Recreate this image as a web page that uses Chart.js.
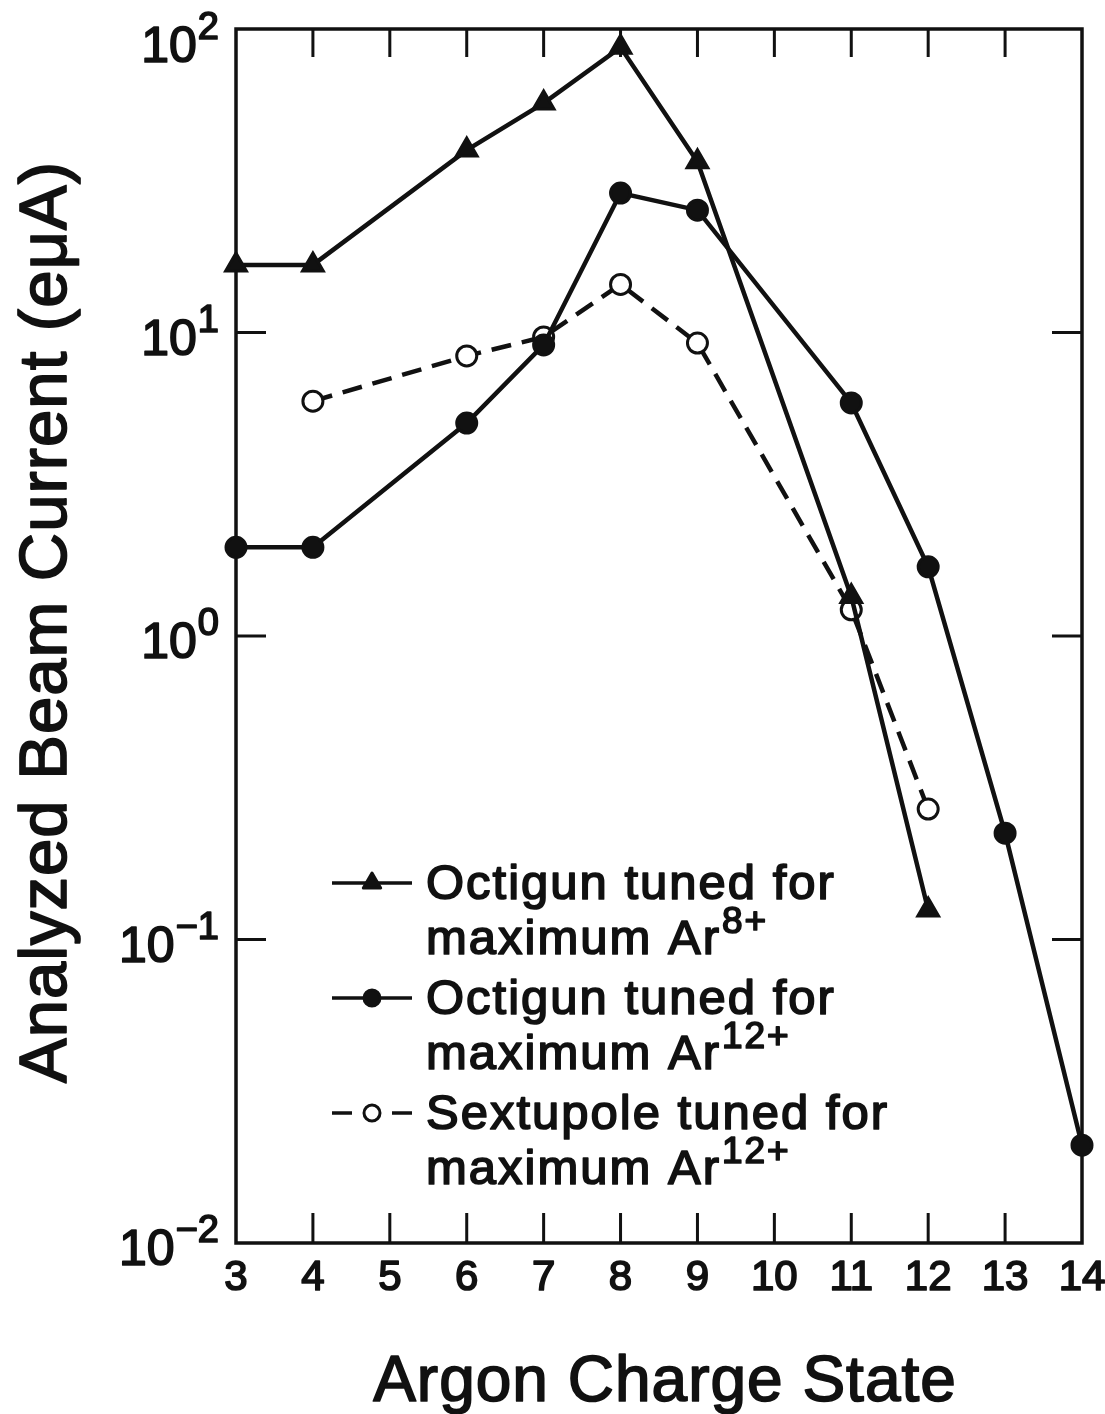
<!DOCTYPE html>
<html>
<head>
<meta charset="utf-8">
<script src="https://cdn.jsdelivr.net/npm/chart.js@4/dist/chart.umd.min.js"></script>
<style>
  html, body { margin: 0; padding: 0; background: #fff; }
  #wrap { width: 1105px; height: 1414px; position: relative; }
</style>
</head>
<body>
<div id="wrap"><canvas id="beamChart"></canvas></div>
<script>
// ---- data ----
const chargeTicks = [3, 4, 5, 6, 7, 8, 9, 10, 11, 12, 13, 14];
const decadeExps = [2, 1, 0, -1, -2];

const ar8States = [3, 4, 6, 7, 8, 9, 11, 12];
const ar8Current = [16.7, 16.7, 39.9, 57, 87, 36.5, 1.35, 0.125];

const ar12States = [3, 4, 6, 7, 8, 9, 11, 12, 13, 14];
const ar12Current = [1.96, 1.96, 5.03, 9.1, 28.8, 25.3, 5.86, 1.69, 0.224, 0.021];

const sextStates = [4, 6, 7, 8, 9, 11, 12];
const sextCurrent = [5.94, 8.37, 9.67, 14.4, 9.23, 1.22, 0.269];

const legendText = [
  ['Octigun tuned for', 'maximum Ar', '8+'],
  ['Octigun tuned for', 'maximum Ar', '12+'],
  ['Sextupole tuned for', 'maximum Ar', '12+']
];
const xTitle = 'Argon Charge State';
const yTitle = 'Analyzed Beam Current (e\u03bcA)';

const FONT = '"Liberation Sans", Arial, Helvetica, sans-serif';
const INK = '#111';

function pairs(xs, ys) {
  return xs.map((x, i) => ({ x: x, y: ys[i] }));
}

// text a bit heavier, like the printed original
function inkText(ctx, txt, x, y) {
  ctx.fillText(txt, x, y);
  ctx.strokeText(txt, x, y);
}

// base text followed by a raised superscript, left aligned at x
function supText(ctx, base, sup, x, y, size, supSize, raise) {
  ctx.textAlign = 'left';
  ctx.font = size + 'px ' + FONT;
  inkText(ctx, base, x, y);
  const w = ctx.measureText(base).width;
  ctx.font = supSize + 'px ' + FONT;
  inkText(ctx, sup, x + w + 1, y - raise);
}

function supWidth(ctx, base, sup, size, supSize) {
  ctx.font = size + 'px ' + FONT;
  const w = ctx.measureText(base).width;
  ctx.font = supSize + 'px ' + FONT;
  return w + 1 + ctx.measureText(sup).width;
}

const framePlugin = {
  id: 'framePlugin',
  beforeDatasetsDraw(chart) {
    const { ctx, chartArea: a, scales } = chart;
    ctx.save();
    ctx.strokeStyle = INK;
    ctx.lineWidth = 3.5;
    ctx.strokeRect(a.left, a.top, a.right - a.left, a.bottom - a.top);

    // inward ticks on all four sides
    ctx.lineWidth = 3;
    ctx.beginPath();
    chargeTicks.slice(1, -1).forEach(v => {
      const x = scales.x.getPixelForValue(v);
      ctx.moveTo(x, a.bottom); ctx.lineTo(x, a.bottom - 30);
      ctx.moveTo(x, a.top); ctx.lineTo(x, a.top + 28);
    });
    decadeExps.slice(1, -1).forEach(e => {
      const y = scales.y.getPixelForValue(Math.pow(10, e));
      ctx.moveTo(a.left, y); ctx.lineTo(a.left + 30, y);
      ctx.moveTo(a.right, y); ctx.lineTo(a.right - 30, y);
    });
    ctx.stroke();
    ctx.restore();
  },
  afterDraw(chart) {
    const { ctx, chartArea: a, scales } = chart;
    ctx.save();
    ctx.fillStyle = INK;
    ctx.strokeStyle = INK;
    ctx.lineWidth = 1.7;
    ctx.lineJoin = 'round';
    ctx.textBaseline = 'alphabetic';

    // x tick labels
    ctx.font = '42px ' + FONT;
    ctx.textAlign = 'center';
    chargeTicks.forEach(v => {
      inkText(ctx, String(v), scales.x.getPixelForValue(v), a.bottom + 47);
    });

    // y tick labels as 10 with exponent
    decadeExps.forEach(e => {
      const y = scales.y.getPixelForValue(Math.pow(10, e));
      const sup = e < 0 ? '\u2212' + Math.abs(e) : String(e);
      const w = supWidth(ctx, '10', sup, 50, 38);
      const base = Math.max(y + 22, a.top + 33);
      supText(ctx, '10', sup, a.left - 17 - w, base, 50, 38, 23);
    });

    // axis titles
    ctx.letterSpacing = '1px';
    ctx.font = '64px ' + FONT;
    ctx.textAlign = 'center';
    inkText(ctx, xTitle, (a.left + a.right) / 2 + 6, a.bottom + 158);

    ctx.font = '67px ' + FONT;
    ctx.save();
    ctx.translate(66, 622);
    ctx.rotate(-Math.PI / 2);
    inkText(ctx, yTitle, 0, 0);
    ctx.restore();

    // legend inside the plot
    ctx.letterSpacing = '2px';
    const lx = a.left + 96, tx = a.left + 190;
    let by = a.top + 870;
    chart.data.datasets.forEach((ds, i) => {
      const my = by - 16;
      ctx.lineWidth = 3.5;
      ctx.beginPath();
      if (ds.borderDash && ds.borderDash.length) {
        ctx.moveTo(lx, my); ctx.lineTo(lx + 20, my);
        ctx.moveTo(lx + 60, my); ctx.lineTo(lx + 80, my);
      } else {
        ctx.moveTo(lx, my); ctx.lineTo(lx + 80, my);
      }
      ctx.stroke();
      ctx.fillStyle = ds.pointBackgroundColor;
      ctx.lineWidth = 3;
      Chart.helpers.drawPoint(ctx, {
        pointStyle: ds.pointStyle, radius: ds.pointRadius - 2,
        borderWidth: 3, rotation: 0
      }, lx + 40, my);
      ctx.fillStyle = INK;
      ctx.lineWidth = 1.7;

      ctx.font = '49px ' + FONT;
      ctx.textAlign = 'left';
      inkText(ctx, legendText[i][0], tx, by);
      supText(ctx, legendText[i][1], legendText[i][2], tx, by + 55, 49, 37, 21);
      by += 115;
    });
    ctx.restore();
  }
};

const lineBase = {
  borderColor: INK,
  borderWidth: 4.5,
  tension: 0,
  clip: false,
  pointBorderColor: INK,
  pointBorderWidth: 3,
  pointHoverRadius: 10
};

new Chart(document.getElementById('beamChart'), {
  type: 'scatter',
  data: {
    datasets: [
      Object.assign({}, lineBase, {
        label: 'Octigun tuned for maximum Ar8+',
        data: pairs(ar8States, ar8Current),
        showLine: true,
        pointStyle: 'triangle',
        pointRadius: 12,
        pointBackgroundColor: INK
      }),
      Object.assign({}, lineBase, {
        label: 'Octigun tuned for maximum Ar12+',
        data: pairs(ar12States, ar12Current),
        showLine: true,
        pointStyle: 'circle',
        pointRadius: 10,
        pointBackgroundColor: INK
      }),
      Object.assign({}, lineBase, {
        label: 'Sextupole tuned for maximum Ar12+',
        data: pairs(sextStates, sextCurrent),
        showLine: true,
        borderDash: [20, 11],
        pointStyle: 'circle',
        pointRadius: 10,
        pointBackgroundColor: '#fff'
      })
    ]
  },
  options: {
    responsive: true,
    maintainAspectRatio: false,
    animation: false,
    layout: { padding: { left: 236, right: 23, top: 29, bottom: 171 } },
    scales: {
      x: { type: 'linear', min: 3, max: 14, display: false },
      y: { type: 'logarithmic', min: 0.01, max: 100, display: false }
    },
    plugins: {
      legend: { display: false },
      tooltip: { enabled: false }
    }
  },
  plugins: [framePlugin]
});
</script>
</body>
</html>
